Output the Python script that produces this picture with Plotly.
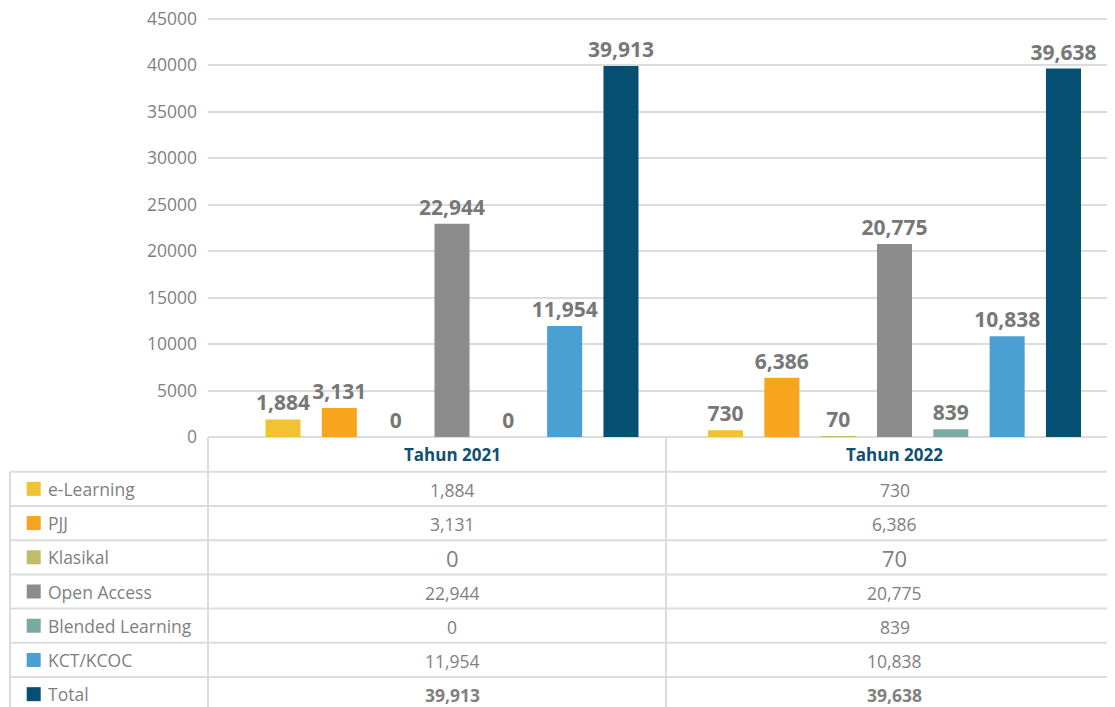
import plotly.graph_objects as go

# ---- data ----
categories = ["Tahun 2021", "Tahun 2022"]
series_names = ["e-Learning", "PJJ", "Klasikal", "Open Access", "Blended Learning", "KCT/KCOC", "Total"]
elearning = [1884, 730]
pjj = [3131, 6386]
klasikal = [0, 70]
open_access = [22944, 20775]
blended = [0, 839]
kct = [11954, 10838]
total = [39913, 39638]
y_ticks = [0, 5000, 10000, 15000, 20000, 25000, 30000, 35000, 40000, 45000]

series_values = [elearning, pjj, klasikal, open_access, blended, kct, total]
colors = ["#f1c232", "#f7a51c", "#c0bd68", "#8c8c8c", "#79aaa3", "#4aa0d2", "#054f72"]

# ---- layout constants (page pixels; the page body adds an 8px offset) ----
OFF = 8
PAGE_W, PAGE_H = 1115, 707
W, H = PAGE_W - OFF, PAGE_H - OFF
Y_MAX = 45400
PL, PR, PB = 208, 1115, 437          # plot area in page pixels
PX_PER_UNIT = (437 - 19) / 45000
PT = PB - Y_MAX * PX_PER_UNIT
GRID = "#dcdcdc"
TXT = "#7f7f7f"
FONT = "Open Sans"


def px(xp):
    return (xp - PL) / (PR - PL)


def py(yp):
    return (PB - yp) / (PB - PT)


fig = go.Figure()
for name, vals, col in zip(series_names, series_values, colors):
    fig.add_trace(go.Bar(
        x=categories, y=vals, name=name, marker=dict(color=col, line=dict(width=0)),
        text=vals, texttemplate="%{y:,}", textposition="outside",
        textfont=dict(family=FONT, size=21, color="#777777", weight="bold"),
        constraintext="none", cliponaxis=False, hoverinfo="skip",
    ))

# ---- table ----
header_top = PB
row_h = 34.2
first_row = 471.7
left_x = 10
col_div = 666
shapes = []
annotations = []
line = dict(color=GRID, width=2)

for i in range(len(series_names) + 1):
    yl = first_row + i * row_h
    shapes.append(dict(type="line", xref="paper", yref="paper", x0=px(left_x), x1=px(PR + 5),
                       y0=py(yl), y1=py(yl), line=line, layer="above"))
bottom = first_row + len(series_names) * row_h
shapes.append(dict(type="line", xref="paper", yref="paper", x0=px(left_x), x1=px(left_x),
                   y0=py(first_row), y1=py(bottom + 5), line=line))
for xv in [PL, col_div]:
    shapes.append(dict(type="line", xref="paper", yref="paper", x0=px(xv), x1=px(xv),
                       y0=py(header_top), y1=py(bottom + 5), line=line))

for i, c in enumerate(categories):
    annotations.append(dict(x=i, xref="x", y=py((header_top + first_row) / 2), yref="paper",
                            text=c, showarrow=False, xanchor="center", yanchor="middle",
                            font=dict(family=FONT, size=17, color="#0f4f70", weight="bold")))

for r, (name, vals, col) in enumerate(zip(series_names, series_values, colors)):
    yc = first_row + (r + 0.5) * row_h
    shapes.append(dict(type="rect", xref="paper", yref="paper", x0=px(26.7), x1=px(40.7),
                       y0=py(yc - 7), y1=py(yc + 7), fillcolor=col, line=dict(width=0)))
    annotations.append(dict(x=px(46), xref="paper", y=py(yc), yref="paper", text=name,
                            showarrow=False, xanchor="left", yanchor="middle",
                            font=dict(family=FONT, size=17.5, color=TXT)))
    size = 22 if name == "Klasikal" else 17.5
    weight = "bold" if name == "Total" else "normal"
    for i, v in enumerate(vals):
        annotations.append(dict(x=i, xref="x", y=py(yc + 1), yref="paper", text=f"{v:,}",
                                showarrow=False, xanchor="center", yanchor="middle",
                                font=dict(family=FONT, size=size, color=TXT, weight=weight)))

x_range = [(PL - 452) / 442.5, (PR - 452) / 442.5]

fig.update_layout(
    width=W, height=H,
    margin=dict(l=PL - OFF, r=PAGE_W - PR, t=PT - OFF, b=PAGE_H - PB, pad=0),
    paper_bgcolor="white", plot_bgcolor="white",
    barmode="group", bargap=0.109, bargroupgap=0.378,
    showlegend=False,
    shapes=shapes, annotations=annotations,
    xaxis=dict(type="category", range=x_range, showticklabels=False, showgrid=False,
               showline=False, zeroline=False, ticks=""),
    yaxis=dict(range=[0, Y_MAX], tickvals=y_ticks, tickformat="d", showgrid=True,
               gridcolor=GRID, gridwidth=2, zeroline=True, zerolinecolor=GRID, zerolinewidth=2,
               showline=False, ticks="", ticklabelstandoff=10, ticklabeloverflow="allow",
               automargin=False,
               tickfont=dict(family=FONT, size=17.5, color=TXT)),
)

fig.write_html("out.html")
